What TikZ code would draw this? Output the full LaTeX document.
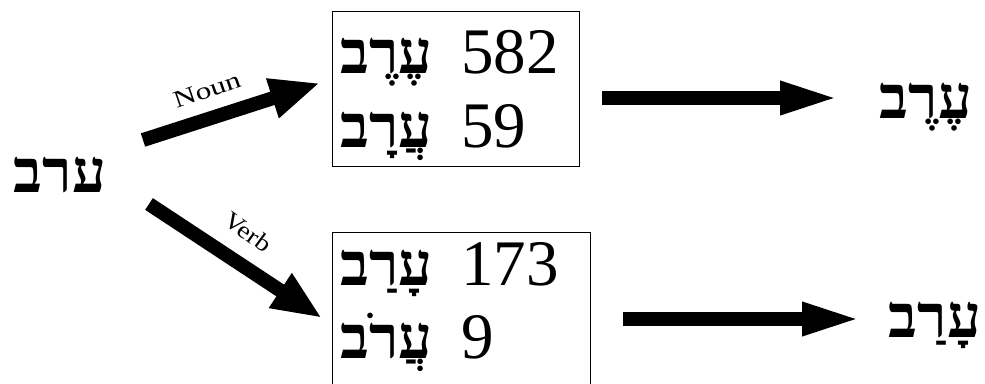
\documentclass[tikz,border=0pt]{standalone}
\usepackage{fontspec}
\setmainfont{Liberation Serif}
\newfontfamily\hebfont[Script=Hebrew]{Liberation Serif}
\TeXXeTstate=1
\usetikzlibrary{arrows.meta}
\begin{document}
\begin{tikzpicture}[x=1pt,y=-1pt,
  heb/.style={font=\hebfont\bfseries\fontsize{60}{62}\selectfont, inner sep=0pt, anchor=base west},
  num/.style={font=\fontsize{65}{67}\selectfont, inner sep=0pt, anchor=base west},
  lab/.style={font=\fontsize{24}{26}\selectfont, inner sep=0pt},
  box/.style={draw, line width=1pt, inner sep=0pt},
  fat/.style={line width=14pt, -{Triangle[length=60pt,width=30pt]}},
  diag/.style={line width=14pt, -{Triangle[length=50pt,width=38pt]}}]
\useasboundingbox (0,0) rectangle (985,383);
% boxes
\node[box, minimum width=247pt, minimum height=155pt] (b1) at (455.5,88.5) {};
\node[box, minimum width=258pt, minimum height=170pt] (b2) at (461,317) {};
% left word
\node[heb, anchor=base] (src) at (60,192) {\beginR ערב\endR};
% top box
\node[heb] (h1) at (340,73) {\beginR עֶרֶב\endR};
\node[num] (n1) at (461,73) {582};
\node[heb] (h2) at (340,147) {\beginR עֲרָב\endR};
\node[num] (n2) at (461,147) {59};
% bottom box
\node[heb] (h3) at (340,285) {\beginR עָרַב\endR};
\node[num] (n3) at (461,285) {173};
\node[heb] (h4) at (340,358) {\beginR עֲרֹב\endR};
\node[num] (n4) at (461,358) {9};
% results
\node[heb, anchor=base] (r1) at (926,118) {\beginR עֶרֶב\endR};
\node[heb, anchor=base] (r2) at (935,337) {\beginR עָרַב\endR};
% arrow ends
\coordinate (nt) at (143,140);
\coordinate (nh) at (320,83);
\coordinate (vt) at (149,204);
\coordinate (vh) at (322,318);
\coordinate (t1) at (602,98);
\coordinate (e1) at (840,98);
\coordinate (t2) at (623,319);
\coordinate (e2) at (862,319);
\draw[diag] (nt) -- (nh);
\draw[diag] (vt) -- (vh);
\draw[fat] (t1) -- (e1);
\draw[fat] (t2) -- (e2);
% labels
\node[lab, rotate=19, xscale=1.3] (noun) at (207,90) {Noun};
\node[lab, rotate=-36, xscale=1.15] (verb) at (248,232) {Verb};
\end{tikzpicture}
\end{document}
